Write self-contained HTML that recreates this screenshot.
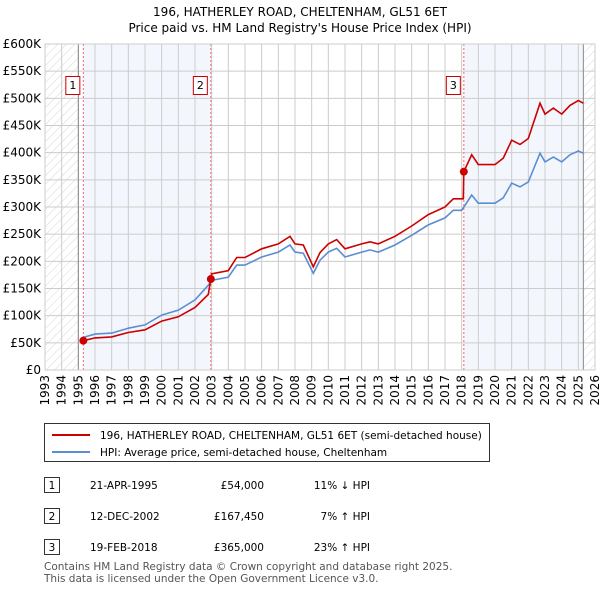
<!DOCTYPE html>
<html><head><meta charset="utf-8"><style>
body{margin:0;background:#fff;font-family:"Liberation Sans","DejaVu Sans",sans-serif;}
svg text{font-family:"DejaVu Sans","Liberation Sans",sans-serif;}
</style></head><body>
<svg id="c" width="600" height="590" xmlns="http://www.w3.org/2000/svg">
<defs><pattern id="hatch" width="6" height="6" patternUnits="userSpaceOnUse" patternTransform="rotate(45)"><line x1="0" y1="0" x2="0" y2="6" stroke="#d6d6d6" stroke-width="1"/></pattern></defs>
<text x="300" y="16" font-size="12" text-anchor="middle">196, HATHERLEY ROAD, CHELTENHAM, GL51 6ET</text>
<text x="300" y="32" font-size="12" text-anchor="middle">Price paid vs. HM Land Registry's House Price Index (HPI)</text>
<g id="plot"></g>
<g>
<rect x="44.5" y="423.5" width="445" height="38" fill="#fff" stroke="#333"/>
<line x1="52" y1="435" x2="90" y2="435" stroke="#c00" stroke-width="2"/>
<text x="100" y="439" font-size="10.5">196, HATHERLEY ROAD, CHELTENHAM, GL51 6ET (semi-detached house)</text>
<line x1="52" y1="452" x2="90" y2="452" stroke="#5b8ed1" stroke-width="2"/>
<text x="100" y="456" font-size="10.5">HPI: Average price, semi-detached house, Cheltenham</text>
</g>
<g font-size="10.5">
<rect x="44.5" y="477.5" width="15" height="15" fill="#fff" stroke="#333"/><text x="52" y="489" text-anchor="middle">1</text>
<text x="90" y="489">21-APR-1995</text><text x="264" y="489" text-anchor="end">£54,000</text><text x="370" y="489" text-anchor="end">11% ↓ HPI</text>
<rect x="44.5" y="508.5" width="15" height="15" fill="#fff" stroke="#333"/><text x="52" y="520" text-anchor="middle">2</text>
<text x="90" y="520">12-DEC-2002</text><text x="264" y="520" text-anchor="end">£167,450</text><text x="370" y="520" text-anchor="end">7% ↑ HPI</text>
<rect x="44.5" y="539.5" width="15" height="15" fill="#fff" stroke="#333"/><text x="52" y="551" text-anchor="middle">3</text>
<text x="90" y="551">19-FEB-2018</text><text x="264" y="551" text-anchor="end">£365,000</text><text x="370" y="551" text-anchor="end">23% ↑ HPI</text>
</g>
<text x="44" y="570" font-size="10.5" fill="#555">Contains HM Land Registry data © Crown copyright and database right 2025.</text>
<text x="44" y="582" font-size="10.5" fill="#555">This data is licensed under the Open Government Licence v3.0.</text>
</svg>
<script>
const hpiDates=[1995.3,1996,1997,1998,1999,2000,2001,2002,2002.8,2003,2004,2004.5,2005,2006,2007,2007.7,2008,2008.5,2009.1,2009.5,2010,2010.5,2011,2012,2012.5,2013,2014,2015,2016,2017,2017.5,2018,2018.6,2019,2020,2020.5,2021,2021.5,2022,2022.7,2023,2023.5,2024,2024.5,2025,2025.3];
const hpiValues=[60,66,68,77,83,101,110,129,156,165,171,193,193,208,217,230,217,215,178,202,217,224,208,217,221,217,230,248,267,280,294,294,322,307,307,317,344,337,346,399,383,392,383,396,403,399];
const priceDates=[1995.3,1996,1997,1998,1999,2000,2001,2002,2002.8,2002.95,2003,2004,2004.5,2005,2006,2007,2007.7,2008,2008.5,2009.1,2009.5,2010,2010.5,2011,2012,2012.5,2013,2014,2015,2016,2017,2017.5,2018.1,2018.13,2018.6,2019,2020,2020.5,2021,2021.5,2022,2022.7,2023,2023.5,2024,2024.5,2025,2025.3];
const priceValues=[54,59,61,69,74,90,98,115,139,167.45,177,183,207,207,223,232,246,232,230,190,216,232,240,223,232,236,232,246,265,286,300,315,315,365,396,378,378,390,423,415,426,491,471,482,471,487,496,491];
const saleDates=[1995.3,2002.95,2018.13];
const saleValues=[54,167.45,365];
const saleLabels=["1","2","3"];
const yTicks=[0,50,100,150,200,250,300,350,400,450,500,550,600];
const xTicks=[1993,1994,1995,1996,1997,1998,1999,2000,2001,2002,2003,2004,2005,2006,2007,2008,2009,2010,2011,2012,2013,2014,2015,2016,2017,2018,2019,2020,2021,2022,2023,2024,2025,2026];
const X0=45,X1=595,Y0=370,Y1=44,dataStart=1995,dataEnd=2025.3;
const xs=v=>X0+(v-1993)/(2026-1993)*(X1-X0);
const ys=v=>Y0-v/600*(Y0-Y1);
const NS="http://www.w3.org/2000/svg";
const g=document.getElementById('plot');
function mk(t,a,p){const e=document.createElementNS(NS,t);for(const k in a)e.setAttribute(k,a[k]);(p||g).appendChild(e);return e;}
let e;
e=mk('rect',{x:xs(saleDates[0]),y:Y1,width:xs(saleDates[1])-xs(saleDates[0]),height:Y0-Y1,fill:'#eef3fc',opacity:0.7});


e=mk('rect',{x:xs(saleDates[2]),y:Y1,width:xs(dataEnd)-xs(saleDates[2]),height:Y0-Y1,fill:'#eef3fc',opacity:0.7});


e=mk('rect',{x:X0,y:Y1,width:xs(dataStart)-X0,height:Y0-Y1,fill:'url(#hatch)'});


e=mk('rect',{x:xs(dataEnd),y:Y1,width:X1-xs(dataEnd),height:Y0-Y1,fill:'url(#hatch)'});


yTicks.forEach(v=>{
 e=mk('line',{x1:X0,x2:X1,y1:ys(v),y2:ys(v),stroke:'#ccc'});
 
 
 e=mk('text',{x:X0-4,y:ys(v)+4,'font-size':12,'text-anchor':'end'});
 e.textContent=v===0?'£0':'£'+v+'K';
 
 
});
xTicks.forEach(v=>{
 e=mk('line',{x1:xs(v),x2:xs(v),y1:Y1,y2:Y0,stroke:'#ccc'});
 
 
 e=mk('text',{x:0,y:0,'font-size':12,'text-anchor':'end',transform:`translate(${xs(v)+4},${Y0+5}) rotate(-90)`});
 e.textContent=v;
 
 
});
[dataStart,dataEnd].forEach(v=>{
 e=mk('line',{x1:xs(v),x2:xs(v),y1:Y1,y2:Y0,stroke:'#888'});
 
 
});
saleDates.forEach((d,i)=>{
 e=mk('line',{x1:xs(d),x2:xs(d),y1:Y1,y2:Y0,stroke:'#f66','stroke-dasharray':'2,2'});
 
 
});
const path=(d,v)=>d.map((t,i)=>(i?'L':'M')+xs(t).toFixed(1)+','+ys(v[i]).toFixed(1)).join('');
e=mk('path',{d:path(hpiDates,hpiValues),fill:'none',stroke:'#5b8ed1','stroke-width':1.6});


e=mk('path',{d:path(priceDates,priceValues),fill:'none',stroke:'#c00','stroke-width':1.6});


saleDates.forEach((d,i)=>{
 e=mk('circle',{cx:xs(d),cy:ys(saleValues[i]),r:4,fill:'#c00'});
 
 
 e=mk('rect',{x:xs(d)-17.5,y:76.5,width:14,height:18,fill:'#fff',stroke:'#c00'});
 
 
 e=mk('text',{x:xs(d)-10.5,y:89,'font-size':11,'text-anchor':'middle'});
 e.textContent=saleLabels[i];
 
 
});
e=mk('rect',{x:X0,y:Y1,width:X1-X0,height:Y0-Y1,fill:'none',stroke:'#ccc'});


</script>
</body></html>
